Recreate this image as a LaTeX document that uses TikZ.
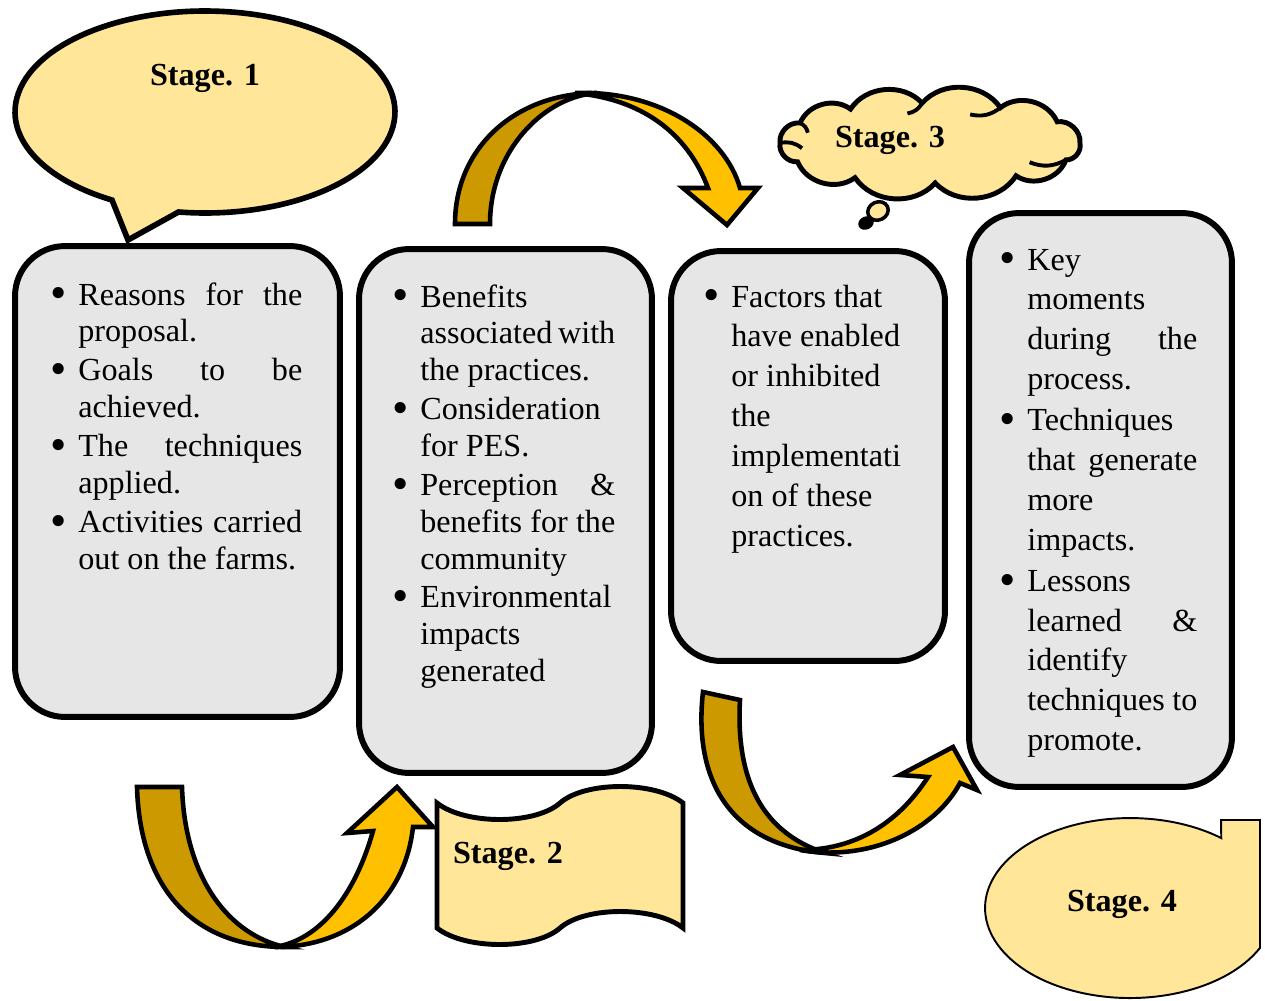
\documentclass[tikz,border=0pt]{standalone}
\usepackage{fontspec}
\setmainfont{Liberation Serif}
\usetikzlibrary{shapes.geometric}
\definecolor{ink}{HTML}{000000}
\definecolor{boxGray}{HTML}{E6E6E6}
\definecolor{stageYellow}{HTML}{FFE699}
\definecolor{arrDark}{HTML}{CC9900}
\definecolor{arrLight}{HTML}{FFC000}
\tikzset{
  stepbox/.style={draw=ink, fill=boxGray, line width=3.4pt, rounded corners=1cm, inner sep=0pt},
  stagefill/.style={draw=ink, fill=stageYellow, line width=3.2pt},
  stagelbl/.style={font=\fontsize{18.3}{21}\selectfont\bfseries, text=ink},
  txt/.style={font=\fontsize{18.3}{21}\selectfont, text=ink, inner sep=0pt, anchor=base west},
  arrback/.style={draw=ink, fill=arrDark, line width=2.6pt, line join=miter},
  arrfront/.style={draw=ink, fill=arrLight, line width=2.6pt, line join=miter},
}
\newcommand{\txtcol}[2]{\vtop{\hsize=#1\relax #2}}
\newcommand{\blt}{\llap{\raisebox{-2.2pt}{\scalebox{1.45}{\textbullet}}\hspace{6.5pt}}}
\newcommand{\itm}[1]{\hbox{\blt#1}}
\newcommand{\itms}[1]{\hbox to\hsize{\blt#1}}
\newcommand{\lin}[1]{\hbox{#1}}
\newcommand{\lins}[1]{\hbox to\hsize{#1}}

\begin{document}
\begin{tikzpicture}[x=0.02cm, y=-0.02cm]
\useasboundingbox (0,0) rectangle (1265,1001);
% stage boxes
\node[stepbox, minimum width=6.5cm, minimum height=9.42cm] (b1) at (177.5,481.5) {};
\node[stepbox, minimum width=5.86cm, minimum height=10.48cm] (b2) at (505.5,511) {};
\node[stepbox, minimum width=5.48cm, minimum height=8.2cm] (b3) at (808,456) {};
\node[stepbox, minimum width=5.26cm, minimum height=11.48cm] (b4) at (1100.5,500) {};
% stage 1 callout
\coordinate (s1c) at (205,112);
\draw[stagefill, line join=miter] (128,240) -- ([shift={(262:3.8cm and 2.02cm)}]s1c)
  arc[start angle=262, end angle=600.7, x radius=3.8cm, y radius=2.02cm] -- cycle;
\node[stagelbl] (s1) at (205,78) {Stage. 1};
% stage 2 wave
\draw[stagefill, line width=2.8pt] (437,803) .. controls (465,825) and (535,825) .. (560,803)
  .. controls (585,781) and (655,781) .. (683,803) -- (683,928)
  .. controls (655,906) and (585,906) .. (560,928) .. controls (535,950) and (465,950) .. (437,928) -- cycle;
\node[stagelbl] (s2) at (508,856) {Stage. 2};
% stage 3 cloud
\coordinate (c3) at (930,143);
\draw[stagefill, line width=2.8pt] ([shift={(0:3cm and 0.8cm)}]c3)
  \foreach \a in {32,62,93,122,150,180,208,240,272,305,335,360} {
    to[bend right=52] ([shift={(\a:3cm and 0.8cm)}]c3) } -- cycle;
\foreach \a/\b in {180/190,150/160,93/100,62/72,335/320} {
  \draw[ink, line width=2.2pt] ([shift={(\a:3cm and 0.8cm)}]c3) to[bend left=25] ([shift={(\b:2.6cm and 0.6cm)}]c3);
}
\node[ellipse, draw=ink, fill=stageYellow, line width=2pt, minimum width=0.42cm, minimum height=0.36cm, inner sep=0pt, rotate=25] (bub1) at (878,211) {};
\node[ellipse, fill=ink, minimum width=0.32cm, minimum height=0.26cm, inner sep=0pt, rotate=25] (bub2) at (866,223) {};
\node[stagelbl] (s3) at (890,140) {Stage. 3};
% stage 4 callout
\draw[draw=ink, fill=stageYellow, line width=1.1pt] (1260,820) -- (1260,947.9)
  arc[start angle=-26.3, end angle=-309, x radius=2.9cm, y radius=1.8cm] -- (1221,820) -- cycle;
\node[stagelbl] (s4) at (1122,904) {Stage. 4};
% curved arrows
\draw[arrback] (455,224) .. controls (455,148) and (515,93) .. (597,93)
  .. controls (545,96) and (490,150) .. (490,224) -- cycle;
\draw[arrfront] (575,93) .. controls (660,90) and (725,135) .. (740,188) -- (758,188) -- (727,225)
  -- (683,188) -- (708,188) .. controls (690,140) and (650,100) .. (575,93) -- cycle;
\draw[arrback] (137,787) -- (182,787) .. controls (185,880) and (230,935) .. (285,947)
  .. controls (195,947) and (140,890) .. (137,787) -- cycle;
\draw[arrfront] (275,947) .. controls (350,947) and (405,900) .. (413,827) -- (433,827) -- (397,787)
  -- (347,833) -- (373,831) .. controls (355,895) and (320,940) .. (275,947) -- cycle;
\draw[arrback] (703,692) .. controls (693,780) and (730,845) .. (825,853)
  .. controls (770,835) and (735,790) .. (740,700) -- cycle;
\draw[arrfront] (800,850) .. controls (870,862) and (935,830) .. (960,783) -- (977,790) -- (953,747)
  -- (900,775) -- (928,777) .. controls (895,828) and (850,850) .. (800,850) -- cycle;
% texts
\node[txt] (t1) at (78,305) {\txtcol{4.48cm}{%
  \itms{Reasons for the}\lin{proposal.}\kern1.1pt
  \itms{Goals to be}\lin{achieved.}\kern1.1pt
  \itms{The techniques}\lin{applied.}\kern1.1pt
  \itms{Activities carried}\lin{out on the farms.}}};
\node[txt] (t2) at (420,307) {\txtcol{3.9cm}{%
  \itm{Benefits}\lins{associated with}\lin{the practices.}\kern1.1pt
  \itm{Consideration}\lin{for PES.}\kern1.1pt
  \itms{Perception \&}\lins{benefits for the}\lin{community}\kern1.1pt
  \itm{Environmental}\lin{impacts}\lin{generated}}};
\node[txt, font=\fontsize{18.3}{22.7}\selectfont] (t3) at (731,307) {\txtcol{3.4cm}{%
  \itm{Factors that}\lin{have enabled}\lin{or inhibited}\lin{the}
  \lin{implementati}\lin{on of these}\lin{practices.}}};
\node[txt, font=\fontsize{18.3}{22.7}\selectfont] (t4) at (1027,270) {\txtcol{3.4cm}{%
  \itm{Key}\lin{moments}\lins{during the}\lin{process.}\kern0.6pt
  \itm{Techniques}\lins{that generate}\lin{more}\lin{impacts.}\kern0.6pt
  \itm{Lessons}\lins{learned \&}\lin{identify}\lins{techniques to}\lin{promote.}}};
\end{tikzpicture}
\end{document}
